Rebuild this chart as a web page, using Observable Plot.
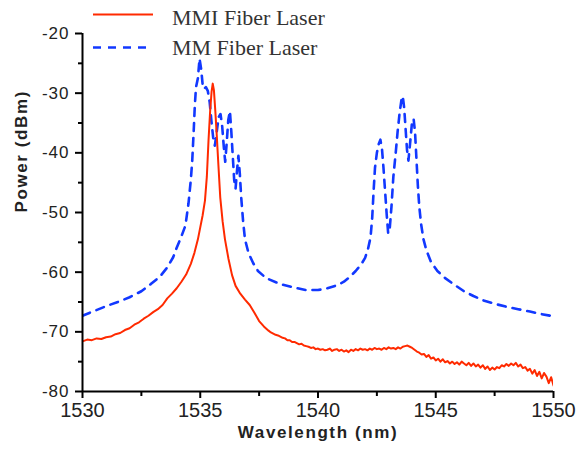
<!DOCTYPE html>
<html><head><meta charset="utf-8">
<script src="https://cdn.jsdelivr.net/npm/d3@7"></script>
<script src="https://cdn.jsdelivr.net/npm/@observablehq/plot@0.6"></script>
<style>
html,body{margin:0;padding:0;background:#fff;}
#wrap{position:relative;width:576px;height:451px;overflow:hidden;}
#legend{position:absolute;left:0;top:0;pointer-events:none;}
</style></head><body><div id="wrap"></div>
<script>
// MMI fiber laser (red, solid)
const mmiWavelength = [
1530.0,1530.2,1530.4,1530.6,1530.8,1531.0,1531.2,1531.4,1531.6,1531.8,
1532.0,1532.2,1532.4,1532.6,1532.8,1533.0,1533.2,1533.4,1533.6,1533.8,
1534.0,1534.2,1534.4,1534.6,1534.75,1534.9,1535.0,1535.1,1535.2,1535.28,
1535.35,1535.42,1535.48,1535.53,1535.58,1535.64,1535.7,1535.77,1535.85,1535.95,
1536.05,1536.2,1536.35,1536.5,1536.7,1536.9,1537.1,1537.3,1537.5,1537.7,1537.9,
1538.0,1538.1,1538.2,1538.3,1538.4,1538.5,1538.6,1538.7,1538.8,1538.9,
1539.0,1539.1,1539.2,1539.3,1539.4,1539.5,1539.6,1539.7,1539.8,1539.9,
1540.0,1540.1,1540.2,1540.3,1540.4,1540.5,1540.6,1540.7,1540.8,1540.9,
1541.0,1541.1,1541.2,1541.3,1541.4,1541.5,1541.6,1541.7,1541.8,1541.9,
1542.0,1542.1,1542.2,1542.3,1542.4,1542.5,1542.6,1542.7,1542.8,1542.9,
1543.0,1543.1,1543.2,1543.3,1543.4,1543.5,1543.6,1543.7,1543.8,1543.9,
1544.0,1544.1,1544.2,1544.3,1544.4,1544.5,1544.6,1544.7,1544.8,1544.9,
1545.0,1545.1,1545.2,1545.3,1545.4,1545.5,1545.6,1545.7,1545.8,1545.9,
1546.0,1546.1,1546.2,1546.3,1546.4,1546.5,1546.6,1546.7,1546.8,1546.9,
1547.0,1547.1,1547.2,1547.3,1547.4,1547.5,1547.6,1547.7,1547.8,1547.9,
1548.0,1548.1,1548.2,1548.3,1548.4,1548.5,1548.6,1548.7,1548.8,1548.9,
1549.0,1549.1,1549.2,1549.3,1549.4,1549.5,1549.6,1549.7,1549.8,1549.9,1550.0];
const mmiPower = [
-71.6,-71.3,-71.4,-71.1,-71.2,-70.9,-70.8,-70.4,-70.2,-69.7,
-69.4,-68.8,-68.4,-67.8,-67.3,-66.7,-66.2,-65.5,-64.4,-63.6,
-62.7,-61.6,-60.4,-58.6,-56.8,-54.5,-52.5,-50.5,-48.0,-44.0,
-38.0,-33.0,-29.8,-28.4,-29.5,-33.0,-37.0,-42.0,-47.5,-51.5,
-54.5,-57.8,-60.5,-62.3,-63.6,-64.6,-65.5,-66.8,-68.2,-69.1,-69.8,
-70.1,-70.3,-70.5,-70.6,-70.8,-71.0,-71.1,-71.4,-71.4,-71.7,
-71.7,-71.9,-72.1,-72.0,-72.3,-72.4,-72.5,-72.7,-72.6,-72.9,
-72.8,-73.0,-72.9,-73.1,-73.0,-72.8,-73.2,-73.0,-72.9,-73.2,
-73.0,-73.3,-73.1,-73.4,-73.0,-73.2,-72.9,-73.1,-72.8,-73.0,
-72.9,-73.1,-72.8,-73.0,-72.7,-72.9,-72.8,-73.0,-72.7,-72.9,
-72.6,-72.8,-72.7,-72.9,-72.6,-72.8,-72.5,-72.4,-72.3,-72.5,
-72.7,-73.0,-73.3,-73.5,-73.8,-73.7,-74.2,-73.9,-74.5,-74.3,
-74.8,-74.5,-75.0,-74.6,-75.1,-74.9,-75.3,-75.0,-75.4,-75.1,
-75.5,-75.0,-75.3,-75.6,-75.2,-75.7,-75.3,-75.8,-75.5,-76.0,
-75.6,-76.2,-75.8,-76.4,-76.0,-76.3,-75.9,-76.1,-75.6,-75.8,
-75.4,-75.7,-75.3,-75.6,-75.2,-75.8,-75.5,-76.1,-75.9,-76.5,
-76.2,-77.0,-76.4,-77.4,-76.7,-77.8,-76.9,-77.5,-78.6,-77.6,-79.0];

// MM fiber laser (blue, dashed)
const mmWavelength = [
1530.0,1530.5,1531.0,1531.5,1532.0,1532.5,1532.9,1533.3,1533.6,1533.85,
1534.0,1534.2,1534.37,1534.5,1534.6,1534.66,1534.72,1534.77,1534.82,1534.9,
1534.97,1535.04,1535.1,1535.16,1535.24,1535.32,1535.4,1535.47,1535.55,1535.62,
1535.7,1535.78,1535.86,1535.93,1536.0,1536.06,1536.12,1536.19,1536.26,1536.32,
1536.38,1536.44,1536.5,1536.56,1536.62,1536.68,1536.74,1536.82,1536.9,1537.05,
1537.25,1537.45,1537.8,1538.4,1539.0,1539.5,1540.0,1540.4,1540.8,1541.1,
1541.35,1541.6,1541.85,1542.0,1542.13,1542.23,1542.3,1542.36,1542.42,1542.5,
1542.58,1542.65,1542.72,1542.78,1542.85,1542.92,1542.98,1543.05,1543.12,1543.2,
1543.3,1543.38,1543.46,1543.54,1543.6,1543.66,1543.72,1543.78,1543.84,1543.92,
1543.99,1544.06,1544.12,1544.18,1544.24,1544.3,1544.38,1544.48,1544.6,1544.8,
1545.07,1545.4,1545.75,1546.2,1546.6,1547.0,1547.5,1548.0,1548.5,1549.0,1549.45,1550.0];
const mmPower = [
-67.3,-66.5,-65.7,-65.0,-64.2,-63.2,-62.0,-60.7,-59.2,-57.5,
-55.9,-54.0,-52.2,-48.5,-44.5,-41.3,-36.5,-32.0,-29.0,-27.5,
-24.2,-26.0,-28.5,-29.3,-29.0,-29.6,-31.5,-34.5,-37.5,-38.8,
-36.5,-34.0,-33.5,-35.5,-39.0,-41.5,-38.5,-34.5,-33.0,-36.5,
-40.5,-44.5,-46.0,-43.0,-40.5,-43.5,-47.5,-51.5,-54.5,-56.8,
-58.5,-59.8,-61.0,-62.0,-62.6,-63.0,-63.0,-62.7,-62.2,-61.6,
-60.8,-59.8,-58.6,-57.6,-56.0,-54.2,-51.0,-46.5,-42.5,-40.0,
-38.5,-37.8,-39.5,-42.5,-46.5,-50.5,-53.5,-52.5,-49.0,-44.0,
-40.0,-36.5,-33.5,-31.2,-30.5,-32.5,-36.0,-39.5,-41.3,-38.0,
-35.0,-34.3,-36.5,-41.0,-45.5,-49.0,-52.0,-54.5,-56.3,-58.3,
-59.8,-61.0,-62.0,-63.2,-64.0,-64.7,-65.3,-65.8,-66.2,-66.6,-67.0,-67.4];

const xTicks = [1530, 1535, 1540, 1545, 1550];
const xMinorTicks = [1532.5, 1537.5, 1542.5, 1547.5];
const yTicks = [-80, -70, -60, -50, -40, -30, -20];
const yMinorTicks = [-75, -65, -55, -45, -35, -25];
const seriesNames = ["MMI Fiber Laser", "MM Fiber Laser"];
const seriesColors = ["#ff2a00", "#1238ff"];
const seriesDash = [null, "8,7"];
const xLabel = "Wavelength (nm)";
const yLabel = "Power (dBm)";

const mmi = mmiWavelength.map((w, i) => ({w, p: mmiPower[i]}));
const mm = mmWavelength.map((w, i) => ({w, p: mmPower[i]}));
const sans = "Liberation Sans, Arial, Helvetica, sans-serif";

const chart = Plot.plot({
  width: 576, height: 451,
  marginLeft: 82, marginRight: 23, marginTop: 33, marginBottom: 60,
  x: {domain: [1530, 1550]},
  y: {domain: [-80, -20]},
  style: {fontFamily: sans, color: "#222", background: "#fff", overflow: "visible"},
  marks: [
    Plot.line(mm, {x: "w", y: "p", stroke: seriesColors[1], strokeWidth: 2.6, strokeDasharray: seriesDash[1], clip: true}),
    Plot.line(mmi, {x: "w", y: "p", stroke: seriesColors[0], strokeWidth: 2, clip: true}),
    Plot.axisX({ticks: xTicks, tickFormat: d => String(d), tickSize: 7, tickPadding: 4, fontSize: 20, label: null, strokeWidth: 2, stroke: "#000"}),
    Plot.axisX({ticks: xMinorTicks, tickSize: 5, text: null, label: null, strokeWidth: 2, stroke: "#000"}),
    Plot.axisY({ticks: yTicks, tickFormat: d => String(d), tickSize: 7, tickPadding: 6, fontSize: 17, label: null, strokeWidth: 2, stroke: "#000"}),
    Plot.axisY({ticks: yMinorTicks, tickSize: 4, text: null, label: null, strokeWidth: 2, stroke: "#000"}),
    Plot.ruleX([1530], {stroke: "#000", strokeWidth: 2}),
    Plot.ruleY([-80], {stroke: "#000", strokeWidth: 2}),
    Plot.text([xLabel], {text: d => d, frameAnchor: "bottom", dy: 46, fontSize: 17, fontWeight: "bold", fill: "#222"}),
    Plot.text([yLabel], {text: d => d, frameAnchor: "left", dx: -61, rotate: -90, fontSize: 17, fontWeight: "bold", fill: "#222"})
  ]
});

const wrap = document.getElementById("wrap");
wrap.appendChild(chart);

// font and letter spacing (reference text is slightly wide)
d3.select(chart).selectAll("text").each(function() {
  this.setAttribute("font-family", sans);
  this.style.fontFamily = sans;
  const t = this.textContent;
  if (t === xLabel || t === yLabel) this.setAttribute("letter-spacing", "1.6");
  else if (t.startsWith("-")) this.setAttribute("letter-spacing", "1");
});

// legend
const legendY = [14.5, 47.5];
const legendTextY = [25, 55];
const lg = d3.select(wrap).append("svg").attr("id", "legend").attr("width", 576).attr("height", 451);
seriesNames.forEach((name, i) => {
  lg.append("line").attr("x1", 93).attr("x2", i === 0 ? 153 : 148).attr("y1", legendY[i]).attr("y2", legendY[i])
    .attr("stroke", seriesColors[i]).attr("stroke-width", i === 0 ? 2 : 2.6)
    .attr("stroke-dasharray", seriesDash[i]);
  lg.append("text").attr("x", 172).attr("y", legendTextY[i]).text(name)
    .attr("font-family", "Liberation Serif, Times New Roman, serif").attr("font-size", 22).attr("fill", "#333");
});
</script>
</body></html>
